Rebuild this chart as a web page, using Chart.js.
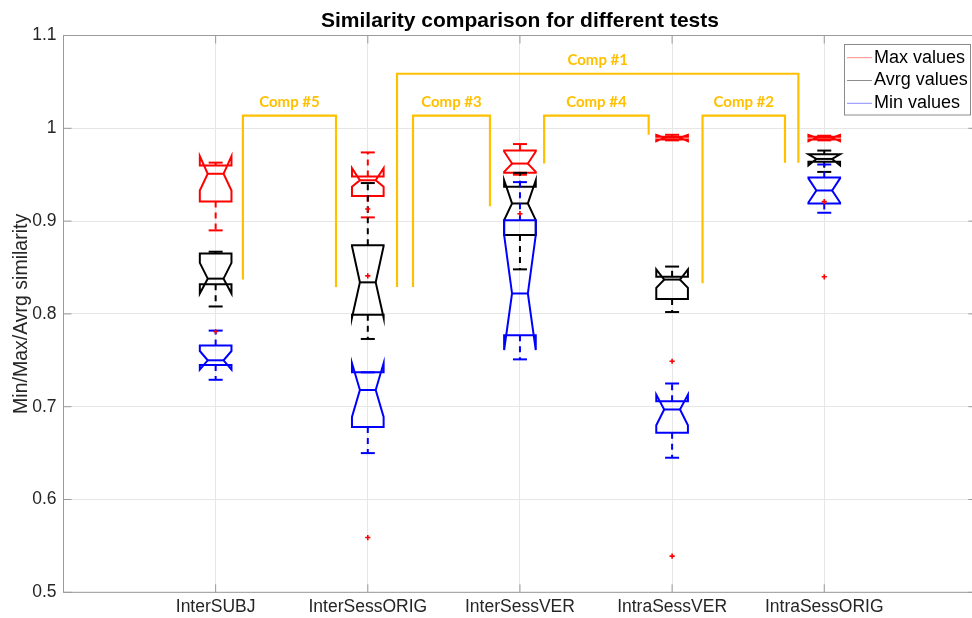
<!DOCTYPE html>
<html>
<head>
<meta charset="utf-8">
<script src="https://cdn.jsdelivr.net/npm/chart.js@4.4.1/dist/chart.umd.min.js"></script>
<style>
  html, body { margin: 0; padding: 0; background: #fff; overflow: hidden; }
  #wrap { width: 972px; height: 618px; overflow: hidden; }
  canvas { display: block; }
</style>
</head>
<body>
<div id="wrap"><canvas id="myChart" width="982" height="618"></canvas></div>
<script>
const categories = ['InterSUBJ', 'InterSessORIG', 'InterSessVER', 'IntraSessVER', 'IntraSessORIG'];
const yTicks = [0.5, 0.6, 0.7, 0.8, 0.9, 1, 1.1];

// rows: [lower whisker, q1, notch low, median, notch high, q3, upper whisker]
const maxStats = [
    [0.890, 0.921, 0.933, 0.951, 0.970, 0.960, 0.963],
    [0.904, 0.927, 0.937, 0.944, 0.957, 0.948, 0.974],
    [0.950, 0.952, 0.953, 0.962, 0.975, 0.976, 0.983],
    [0.987, 0.988, 0.986, 0.990, 0.993, 0.991, 0.993],
    [0.987, 0.988, 0.986, 0.990, 0.993, 0.991, 0.992]
];
const avrgStats = [
    [0.808, 0.832, 0.822, 0.838, 0.855, 0.865, 0.867],
    [0.773, 0.799, 0.796, 0.834, 0.873, 0.874, 0.941],
    [0.848, 0.885, 0.901, 0.919, 0.944, 0.937, 0.952],
    [0.802, 0.816, 0.828, 0.837, 0.848, 0.840, 0.851],
    [0.953, 0.964, 0.960, 0.967, 0.972, 0.972, 0.976]
];
const minStats = [
    [0.729, 0.745, 0.740, 0.750, 0.760, 0.766, 0.782],
    [0.650, 0.678, 0.689, 0.718, 0.747, 0.737, 0.737],
    [0.751, 0.777, 0.761, 0.822, 0.885, 0.901, 0.942],
    [0.645, 0.672, 0.680, 0.697, 0.713, 0.706, 0.725],
    [0.909, 0.919, 0.920, 0.933, 0.946, 0.947, 0.961]
];

const outlierCat = [1, 2, 2, 2, 3, 4, 4, 5, 5];
const outlierVal = [0.781, 0.913, 0.841, 0.559, 0.908, 0.749, 0.539, 0.921, 0.840];

const compNames = ['Comp #1', 'Comp #2', 'Comp #3', 'Comp #4', 'Comp #5'];
const compLeftX = [2.192, 4.200, 2.297, 3.159, 1.179];
const compRightX = [4.830, 4.742, 2.803, 3.846, 1.791];
const compTop = [1.0588, 1.0136, 1.0136, 1.0136, 1.0136];
const compLeftEnd = [0.829, 0.833, 0.829, 0.962, 0.837];
const compRightEnd = [0.963, 0.963, 0.916, 0.993, 0.829];

const legendNames = ['Max values', 'Avrg values', 'Min values'];
const legendColors = ['rgba(255,0,0,0.45)', 'rgba(0,0,0,0.45)', 'rgba(0,0,255,0.45)'];

const boxHalf = 0.104;
const capHalf = 0.046;
const gold = '#FFC000';
const axisGray = '#9a9a9a';

function seg(ctx, x1, y1, x2, y2) {
    ctx.beginPath();
    ctx.moveTo(x1, y1);
    ctx.lineTo(x2, y2);
    ctx.stroke();
}

function drawBox(ctx, xs, ys, cat, s, color) {
    const xc = xs.getPixelForValue(cat);
    const hw = xs.getPixelForValue(cat + boxHalf) - xc;
    const nw = hw * 0.5;
    const cw = xs.getPixelForValue(cat + capHalf) - xc;
    const [wLo, q1, nLo, med, nHi, q3, wHi] = s.map(v => ys.getPixelForValue(v));

    ctx.strokeStyle = color;
    ctx.lineWidth = 2;
    ctx.setLineDash([6, 5]);
    seg(ctx, xc, q3, xc, wHi);
    seg(ctx, xc, q1, xc, wLo);
    ctx.setLineDash([]);
    seg(ctx, xc - cw, wHi, xc + cw, wHi);
    seg(ctx, xc - cw, wLo, xc + cw, wLo);

    ctx.beginPath();
    ctx.moveTo(xc - hw, q1);
    ctx.lineTo(xc - hw, nLo);
    ctx.lineTo(xc - nw, med);
    ctx.lineTo(xc - hw, nHi);
    ctx.lineTo(xc - hw, q3);
    ctx.lineTo(xc + hw, q3);
    ctx.lineTo(xc + hw, nHi);
    ctx.lineTo(xc + nw, med);
    ctx.lineTo(xc + hw, nLo);
    ctx.lineTo(xc + hw, q1);
    ctx.closePath();
    ctx.stroke();
    seg(ctx, xc - nw, med, xc + nw, med);
}

const boxPlugin = {
    id: 'boxes',
    beforeDatasetsDraw(chart) {
        const ctx = chart.ctx;
        const xs = chart.scales.x;
        const ys = chart.scales.y;
        const a = chart.chartArea;
        ctx.save();

        // frame and inward ticks
        ctx.strokeStyle = axisGray;
        ctx.lineWidth = 1;
        ctx.strokeRect(a.left, a.top, a.right - a.left, a.bottom - a.top);
        yTicks.forEach(v => {
            const y = ys.getPixelForValue(v);
            seg(ctx, a.left, y, a.left + 8, y);
            seg(ctx, a.right, y, a.right - 8, y);
        });
        categories.forEach((c, i) => {
            const x = xs.getPixelForValue(i + 1);
            seg(ctx, x, a.bottom, x, a.bottom - 8);
            seg(ctx, x, a.top, x, a.top + 8);
        });

        categories.forEach((c, i) => {
            drawBox(ctx, xs, ys, i + 1, maxStats[i], '#ff0000');
            drawBox(ctx, xs, ys, i + 1, avrgStats[i], '#000000');
            drawBox(ctx, xs, ys, i + 1, minStats[i], '#0000ff');
        });
        ctx.restore();
    },
    afterDatasetsDraw(chart) {
        const ctx = chart.ctx;
        const xs = chart.scales.x;
        const ys = chart.scales.y;
        ctx.save();
        ctx.fillStyle = gold;
        ctx.font = 'bold 15px Lato';
        ctx.textAlign = 'center';
        ctx.textBaseline = 'middle';
        compNames.forEach((n, i) => {
            const x = (xs.getPixelForValue(compLeftX[i]) + xs.getPixelForValue(compRightX[i])) / 2;
            const y = ys.getPixelForValue(compTop[i]) - 14;
            ctx.fillText(n, x, y);
        });
        ctx.restore();
    },
    afterDraw(chart) {
        const ctx = chart.ctx;
        ctx.save();
        ctx.fillStyle = '#fff';
        ctx.fillRect(844.5, 44.5, 126, 70.5);
        ctx.strokeStyle = '#8a8a8a';
        ctx.lineWidth = 1;
        ctx.strokeRect(844.5, 44.5, 126, 70.5);
        ctx.font = '18px "Liberation Sans"';
        ctx.textBaseline = 'middle';
        ctx.textAlign = 'left';
        legendNames.forEach((n, i) => {
            const y = 57.7 + i * 22.8;
            ctx.strokeStyle = legendColors[i];
            ctx.lineWidth = 1;
            seg(ctx, 847, y, 872, y);
            ctx.fillStyle = '#000';
            ctx.fillText(n, 874, y);
        });
        ctx.restore();
    }
};

const bracketSets = compNames.map((n, i) => ({
    label: n,
    data: [
        {x: compLeftX[i], y: compLeftEnd[i]},
        {x: compLeftX[i], y: compTop[i]},
        {x: compRightX[i], y: compTop[i]},
        {x: compRightX[i], y: compRightEnd[i]}
    ],
    showLine: true,
    borderColor: gold,
    borderWidth: 2.2,
    pointRadius: 0,
    tension: 0,
    fill: false
}));

const outlierSet = {
    label: 'outliers',
    data: outlierCat.map((c, i) => ({x: c, y: outlierVal[i]})),
    pointStyle: 'cross',
    pointRadius: 2.6,
    borderColor: '#ff0000',
    backgroundColor: '#ff0000',
    borderWidth: 1.6,
    showLine: false
};

const ctx = document.getElementById('myChart');

const myChart = new Chart(ctx, {
    type: 'scatter',
    data: {
        datasets: bracketSets.concat([outlierSet])
    },
    options: {
        responsive: false,
        animation: false,
        layout: {
            padding: {left: 0, right: 3.5, top: 0, bottom: 0}
        },
        plugins: {
            legend: {display: false},
            tooltip: {enabled: false},
            title: {
                display: true,
                fullSize: false,
                text: 'Similarity comparison for different tests',
                color: '#000',
                font: {size: 21, weight: 'bold', family: 'Liberation Sans'},
                padding: {top: 9, bottom: 1.3}
            }
        },
        scales: {
            x: {
                type: 'linear',
                min: 0,
                max: 6,
                afterBuildTicks: scale => {
                    scale.ticks = categories.map((c, i) => ({value: i + 1}));
                },
                afterFit: scale => {
                    scale.height = 25.7;
                },
                ticks: {
                    autoSkip: false,
                    maxRotation: 0,
                    padding: 4.5,
                    color: '#262626',
                    font: {size: 17.5, family: 'Liberation Sans'},
                    callback: v => categories[v - 1]
                },
                grid: {color: '#e6e6e6', drawTicks: false},
                border: {display: false}
            },
            y: {
                min: 0.5,
                max: 1.1,
                afterBuildTicks: scale => {
                    scale.ticks = yTicks.map(v => ({value: v}));
                },
                afterFit: scale => {
                    scale.width = 63.5;
                },
                ticks: {
                    padding: 7,
                    color: '#262626',
                    font: {size: 17.5, family: 'Liberation Sans'},
                    callback: v => String(v)
                },
                title: {
                    display: true,
                    text: 'Min/Max/Avrg similarity',
                    color: '#262626',
                    font: {size: 19.5, family: 'Liberation Sans'},
                    padding: {top: 10, bottom: 0}
                },
                grid: {color: '#e6e6e6', drawTicks: false},
                border: {display: false}
            }
        }
    },
    plugins: [boxPlugin]
});
</script>
</body>
</html>
